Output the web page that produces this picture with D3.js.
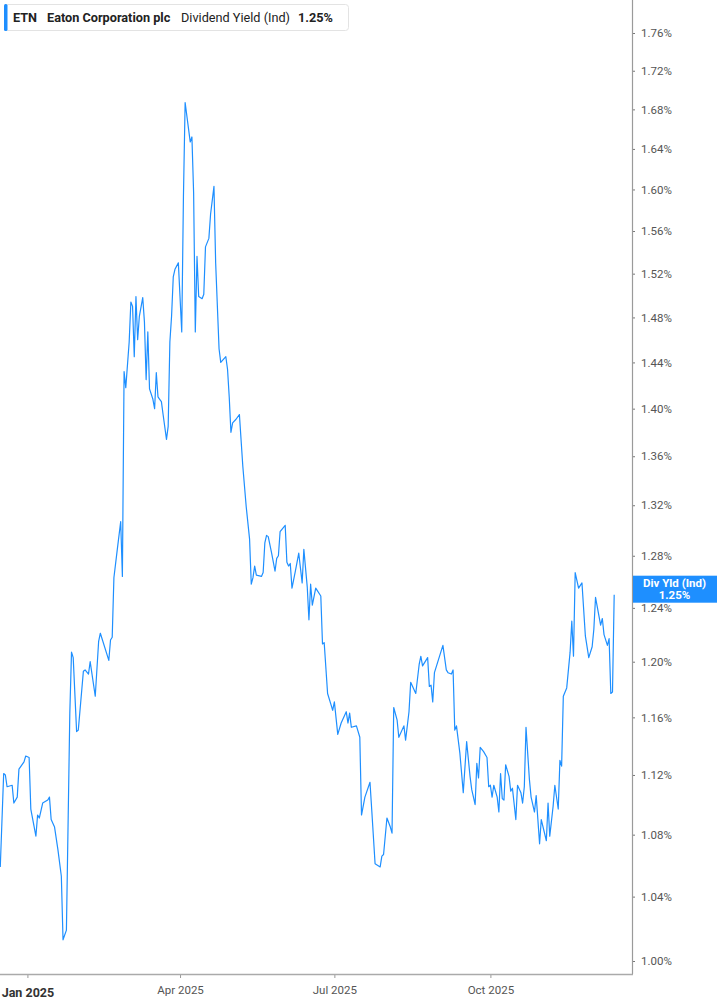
<!DOCTYPE html>
<html>
<head>
<meta charset="utf-8">
<script src="https://cdn.jsdelivr.net/npm/d3@7"></script>
<style>
html,body{margin:0;padding:0;background:#fff;}
svg{display:block;}
text{font-family:Roboto,"Liberation Sans",sans-serif;}
</style>
</head>
<body>
<svg id="chart" width="717" height="1005"></svg>
<script>
// ---- data ----
const dates = [
"2024-12-16","2024-12-18","2024-12-19","2024-12-20","2024-12-23","2024-12-24","2024-12-26","2024-12-27","2024-12-30","2024-12-31",
"2025-01-02","2025-01-03","2025-01-06","2025-01-07","2025-01-08","2025-01-10","2025-01-13","2025-01-14","2025-01-15","2025-01-17",
"2025-01-19","2025-01-21","2025-01-22","2025-01-24","2025-01-26","2025-01-27","2025-01-28","2025-01-30","2025-01-31",
"2025-02-03","2025-02-04","2025-02-06","2025-02-07","2025-02-10","2025-02-12","2025-02-13","2025-02-18","2025-02-19","2025-02-20","2025-02-21","2025-02-23","2025-02-25","2025-02-26","2025-02-27","2025-02-28",
"2025-03-02","2025-03-03","2025-03-04","2025-03-05","2025-03-06","2025-03-07","2025-03-08","2025-03-10","2025-03-11","2025-03-12","2025-03-13","2025-03-14","2025-03-16","2025-03-17","2025-03-18","2025-03-19","2025-03-20","2025-03-21","2025-03-22","2025-03-24","2025-03-25","2025-03-26","2025-03-27","2025-03-28","2025-03-29","2025-03-31",
"2025-04-02","2025-04-03","2025-04-04","2025-04-07","2025-04-08","2025-04-09","2025-04-10","2025-04-11","2025-04-12","2025-04-14","2025-04-15","2025-04-16","2025-04-18","2025-04-19","2025-04-21","2025-04-22","2025-04-24","2025-04-25","2025-04-28","2025-04-29","2025-04-30",
"2025-05-01","2025-05-02","2025-05-04","2025-05-06","2025-05-08","2025-05-10","2025-05-12","2025-05-13","2025-05-14","2025-05-15","2025-05-16","2025-05-19","2025-05-20","2025-05-21","2025-05-22","2025-05-23","2025-05-25","2025-05-27","2025-05-28","2025-05-29","2025-05-30",
"2025-06-02","2025-06-03","2025-06-04","2025-06-05","2025-06-06","2025-06-08","2025-06-09","2025-06-10","2025-06-12","2025-06-13","2025-06-15","2025-06-16","2025-06-17","2025-06-18","2025-06-20","2025-06-23","2025-06-24","2025-06-25","2025-06-27","2025-06-29","2025-06-30",
"2025-07-01","2025-07-03","2025-07-05","2025-07-08","2025-07-09","2025-07-10","2025-07-11","2025-07-14","2025-07-16","2025-07-17","2025-07-19","2025-07-22","2025-07-23","2025-07-25","2025-07-28","2025-07-29","2025-07-30",
"2025-08-01","2025-08-03","2025-08-04","2025-08-05","2025-08-07","2025-08-08","2025-08-11","2025-08-12","2025-08-14","2025-08-15","2025-08-18","2025-08-20","2025-08-21","2025-08-22","2025-08-25","2025-08-26","2025-08-27","2025-08-28","2025-08-29",
"2025-09-03","2025-09-05","2025-09-06","2025-09-08","2025-09-09","2025-09-10","2025-09-11","2025-09-13","2025-09-15","2025-09-17","2025-09-19","2025-09-20","2025-09-22","2025-09-23","2025-09-24","2025-09-25","2025-09-27","2025-09-29","2025-09-30",
"2025-10-01","2025-10-02","2025-10-03","2025-10-05","2025-10-06","2025-10-07","2025-10-08","2025-10-09","2025-10-10","2025-10-12","2025-10-13","2025-10-14","2025-10-16","2025-10-17","2025-10-19","2025-10-20","2025-10-21","2025-10-22","2025-10-24","2025-10-25","2025-10-27","2025-10-28","2025-10-30","2025-10-31",
"2025-11-03","2025-11-04","2025-11-05","2025-11-07","2025-11-08","2025-11-10","2025-11-11","2025-11-12","2025-11-13","2025-11-15","2025-11-17","2025-11-18","2025-11-19","2025-11-20","2025-11-22","2025-11-24","2025-11-26","2025-11-28","2025-11-30",
"2025-12-01","2025-12-02","2025-12-05","2025-12-06","2025-12-07","2025-12-09","2025-12-10","2025-12-11","2025-12-12","2025-12-13"
];

const dividendYield = [
1.059,1.121,1.120,1.112,1.113,1.101,1.105,1.124,1.129,1.133,
1.132,1.097,1.079,1.093,1.091,1.101,1.103,1.105,1.090,1.085,
1.070,1.053,1.013,1.019,1.163,1.207,1.203,1.150,1.151,
1.193,1.194,1.191,1.200,1.175,1.215,1.221,1.201,1.216,1.218,1.263,1.285,1.307,1.264,1.432,1.418,
1.458,1.494,1.490,1.445,1.499,1.460,1.481,1.498,1.476,1.425,1.467,1.417,1.408,1.400,1.431,1.410,1.408,1.406,1.395,1.374,1.385,1.458,1.481,1.517,1.524,1.530,
1.467,1.593,1.687,1.647,1.652,1.597,1.467,1.536,1.499,1.497,1.501,1.545,1.553,1.576,1.603,1.530,1.452,1.440,1.445,1.434,1.410,
1.380,1.388,1.391,1.395,1.352,1.319,1.293,1.258,1.263,1.272,1.265,1.264,1.267,1.290,1.296,1.295,1.282,1.268,1.278,1.280,1.299,
1.304,1.275,1.272,1.274,1.255,1.268,1.275,1.282,1.259,1.285,1.256,1.231,1.258,1.242,1.255,1.249,1.213,1.214,1.177,1.169,1.165,
1.171,1.148,1.156,1.164,1.156,1.163,1.153,1.154,1.146,1.093,1.105,1.115,1.097,1.061,1.059,1.066,1.067,
1.091,1.085,1.081,1.167,1.158,1.146,1.154,1.144,1.164,1.185,1.177,1.198,1.204,1.197,1.203,1.182,1.183,1.171,1.192,
1.212,1.194,1.192,1.191,1.194,1.151,1.154,1.135,1.108,1.143,1.119,1.110,1.100,1.128,1.118,1.139,1.136,1.132,1.112,
1.113,1.105,1.113,1.105,1.095,1.121,1.104,1.103,1.127,1.119,1.109,1.111,1.090,1.113,1.108,1.101,1.112,1.153,1.117,1.105,1.095,1.106,1.074,1.090,
1.076,1.101,1.079,1.099,1.113,1.097,1.130,1.126,1.175,1.181,1.207,1.230,1.204,1.267,1.255,1.259,1.219,1.203,1.211,
1.224,1.248,1.227,1.232,1.220,1.212,1.217,1.177,1.178,1.25
];

const yTicks = [1.00,1.04,1.08,1.12,1.16,1.20,1.24,1.28,1.32,1.36,1.40,1.44,1.48,1.52,1.56,1.60,1.64,1.68,1.72,1.76];
const xTickDates = ["2025-01-01","2025-04-01","2025-07-01","2025-10-01"];
const xDomain = ["2024-12-15T20:00:00Z","2025-12-23T12:00:00Z"];
const yDomain = [1.00, 1.76];

const ticker = "ETN";
const company = "Eaton Corporation plc";
const metric = "Dividend Yield (Ind)";
const lastLabel = "Div Yld (Ind)";
const lastValue = 1.25;

// ---- layout ----
const W = 717, H = 1005;
const plotW = 632, plotH = 974;
const blue = "#1e8fff";

const parse = d3.utcParse("%Y-%m-%d");
const data = dates.map((d,i)=>({date: parse(d), v: dividendYield[i]}));

const x = d3.scaleUtc().domain(xDomain.map(s=>new Date(s))).range([0, plotW]);
const y = d3.scaleLog().domain(yDomain).range([961, 33]);

const svg = d3.select("#chart");

svg.append("defs").append("clipPath").attr("id","clip")
  .append("rect").attr("x",0).attr("y",0).attr("width",plotW).attr("height",plotH);

// line
const line = d3.line().x(d=>x(d.date)).y(d=>y(d.v));
svg.append("path").datum(data)
  .attr("clip-path","url(#clip)")
  .attr("fill","none").attr("stroke",blue).attr("stroke-width",1.2)
  .attr("stroke-linejoin","round")
  .attr("d", line);

// y axis (right)
const yAxis = d3.axisRight(y).tickValues(yTicks).tickSize(3).tickPadding(6)
  .tickFormat(d=>d3.format(".2f")(d)+"%");
const gy = svg.append("g").attr("transform",`translate(${plotW},0)`).call(yAxis);
gy.select(".domain").remove();
gy.selectAll(".tick line").attr("stroke","#777");
gy.selectAll(".tick text").attr("fill","#555").style("font-size","11.5px");
svg.append("line").attr("x1",plotW+0.5).attr("x2",plotW+0.5).attr("y1",0).attr("y2",plotH)
  .attr("stroke","#9a9a9a").attr("stroke-width",1.2);

// x axis
const xAxis = d3.axisBottom(x).tickValues(xTickDates.map(parse)).tickSize(4).tickPadding(6)
  .tickFormat(d3.utcFormat("%b %Y"));
const gx = svg.append("g").attr("transform",`translate(0,${plotH})`).call(xAxis);
gx.select(".domain").remove();
gx.selectAll(".tick line").attr("stroke","#999");
gx.selectAll(".tick text").attr("fill","#555").style("font-size","11.5px").attr("dy","0.9em");
gx.selectAll(".tick text").filter((d,i)=>i===0)
  .attr("fill","#333").style("font-size","12.5px").style("font-weight","bold").attr("dy","1.05em");
svg.append("line").attr("x1",0).attr("x2",plotW+1).attr("y1",plotH+0.5).attr("y2",plotH+0.5)
  .attr("stroke","#aaa").attr("stroke-width",1.5);

// last value label box
const ly = y(lastValue);
const lb = svg.append("g");
lb.append("rect").attr("x",plotW+1).attr("y",ly-19).attr("width",W-plotW-1).attr("height",27)
  .attr("fill",blue);
lb.append("text").attr("x",(plotW+W)/2).attr("y",ly-8).attr("text-anchor","middle")
  .attr("fill","#fff").style("font-size","11.5px").style("font-weight","bold").text(lastLabel);
lb.append("text").attr("x",(plotW+W)/2).attr("y",ly+4).attr("text-anchor","middle")
  .attr("fill","#fff").style("font-size","11.5px").style("font-weight","bold").text(d3.format(".2f")(lastValue)+"%");

// legend
const lg = svg.append("g");
lg.append("rect").attr("x",4.5).attr("y",4.5).attr("width",344).attr("height",26).attr("rx",3)
  .attr("fill","#fff").attr("stroke","#e3e3e3");
lg.append("rect").attr("x",4).attr("y",4).attr("width",3.5).attr("height",27).attr("rx",1.5).attr("fill",blue);
const lt = lg.append("text").attr("y",22).style("font-size","12.7px").attr("fill","#222");
lt.append("tspan").attr("x",13).style("font-weight","bold").text(ticker);
lt.append("tspan").attr("x",47).style("font-weight","bold").text(company);
lt.append("tspan").attr("x",181).text(metric);
lt.append("tspan").attr("x",298).style("font-weight","bold").text(d3.format(".2f")(lastValue)+"%");
</script>
</body>
</html>
